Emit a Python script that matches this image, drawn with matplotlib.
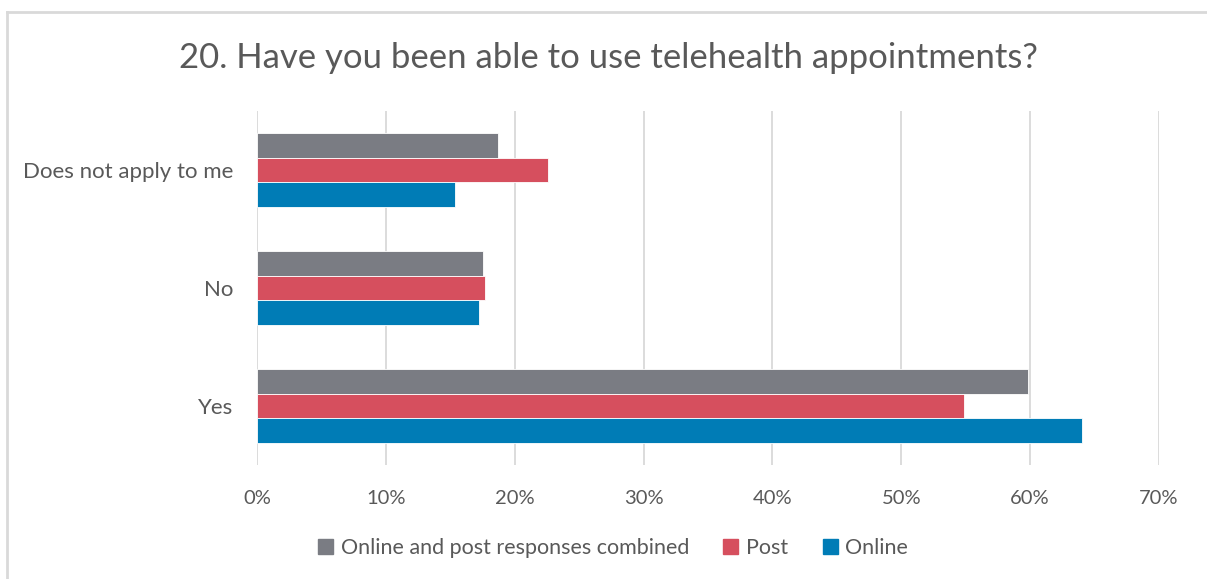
import matplotlib
matplotlib.use("Agg")
import matplotlib.pyplot as plt
import matplotlib.patches as mpatches
from matplotlib.lines import Line2D
from matplotlib.ticker import FuncFormatter
import numpy as np

# ── Data ─────────────────────────────────────────────────────────────────────
categories = ["Yes", "No", "Does not apply to me"]
combined = [59.8, 17.5, 18.7]
post = [54.9, 17.7, 22.6]
online = [64.0, 17.2, 15.4]
series_names = ["Online and post responses combined", "Post", "Online"]

# ── Colours ──────────────────────────────────────────────────────────────────
C_COMBINED = "#7A7C83"
C_POST = "#D64F5E"
C_ONLINE = "#007CB6"
C_TEXT = "#595959"
C_GRID = "#D9D9D9"

plt.rcParams["font.family"] = ["Lato", "DejaVu Sans"]

W, H = 1207, 579
fig = plt.figure(figsize=(W / 100, H / 100), dpi=100)
ax = fig.add_axes([257 / W, 1 - 465 / H, (1159 - 257) / W, (465 - 111) / H])

y = np.arange(len(categories))
h = 0.207
ax.barh(y + h, combined, height=h, color=C_COMBINED, edgecolor="white", linewidth=0.6, zorder=3)
ax.barh(y, post, height=h, color=C_POST, edgecolor="white", linewidth=0.6, zorder=3)
ax.barh(y - h, online, height=h, color=C_ONLINE, edgecolor="white", linewidth=0.6, zorder=3)

ax.set_xlim(0, 70)
ax.set_ylim(-0.5, len(categories) - 0.5)
ax.set_xticks(np.arange(0, 71, 10))
ax.xaxis.set_major_formatter(FuncFormatter(lambda v, _: f"{v:.0f}%"))
ax.set_yticks(y)
ax.set_yticklabels(categories)
ax.tick_params(length=0, labelsize=16, colors=C_TEXT)
ax.tick_params(axis="x", labelsize=14.5, pad=18)
ax.tick_params(axis="y", pad=17)
ax.grid(axis="x", color=C_GRID, linewidth=1.3, zorder=0)
for s in ax.spines.values():
    s.set_visible(False)

fig.text(608 / W, 1 - 58 / H, "20. Have you been able to use telehealth appointments?",
         ha="center", va="center", fontsize=25, color=C_TEXT)

handles = [mpatches.Patch(color=c, label=n)
           for c, n in zip([C_COMBINED, C_POST, C_ONLINE], series_names)]
fig.legend(handles=handles, loc="center", bbox_to_anchor=(613 / W, 1 - 548 / H),
           ncol=3, frameon=False, fontsize=15.5, labelcolor=C_TEXT,
           handlelength=0.7, handleheight=0.7, handletextpad=0.35, columnspacing=1.6)

# chart frame (only top and left edges visible in the reference)
fig.add_artist(Line2D([7 / W, 1], [1 - 12 / H, 1 - 12 / H], color=C_GRID, linewidth=2,
                      transform=fig.transFigure))
fig.add_artist(Line2D([7 / W, 7 / W], [0, 1 - 12 / H], color=C_GRID, linewidth=2,
                      transform=fig.transFigure))

fig.savefig("out.png", dpi=100)
